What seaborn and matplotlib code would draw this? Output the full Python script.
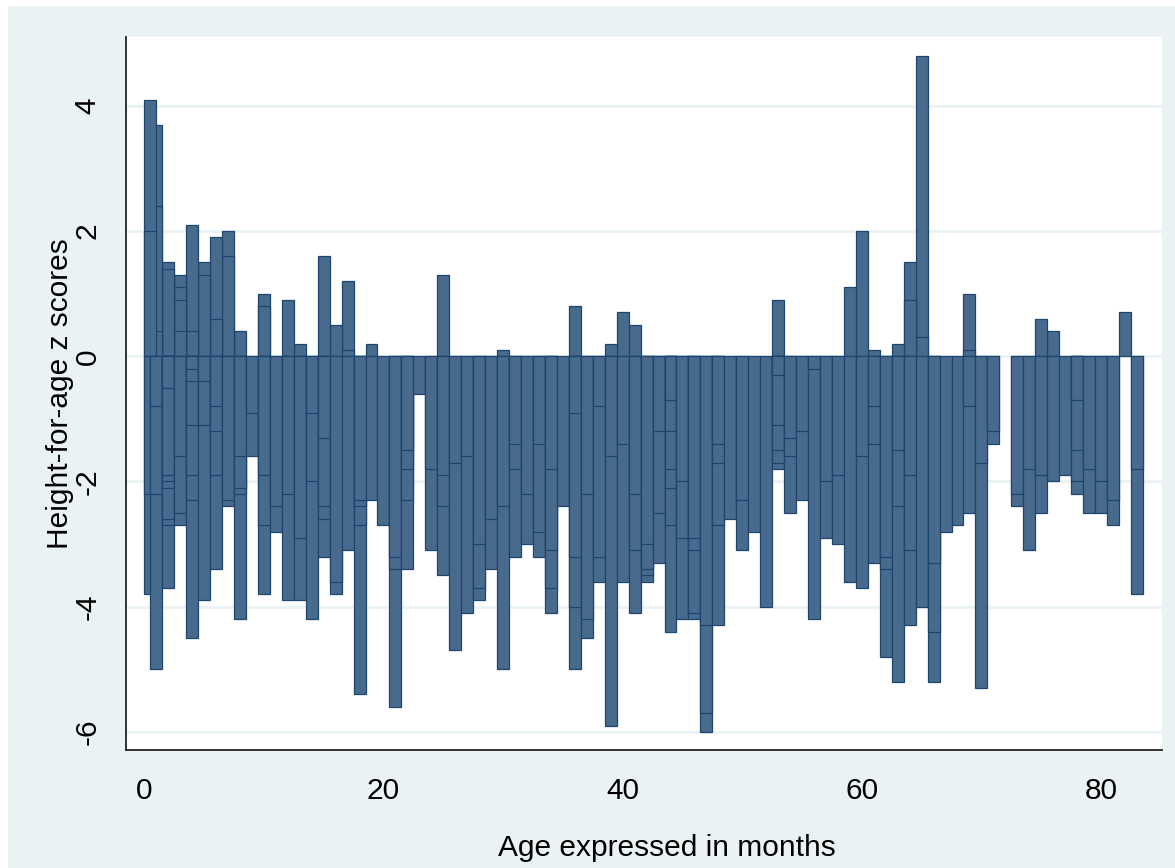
import matplotlib
matplotlib.use("Agg")
import matplotlib.pyplot as plt
from matplotlib.patches import Rectangle
import seaborn as sns
import pandas as pd

# age in months and the height-for-age z scores observed at that age
months = [0.5, 1, 2, 3, 4, 5, 6, 7, 8, 9, 10, 11, 12, 13, 14, 15, 16, 17, 18, 19,
          20, 21, 22, 23, 24, 25, 26, 27, 28, 29, 30, 31, 32, 33, 34, 35, 36, 37,
          38, 39, 40, 41, 42, 43, 44, 45, 46, 47, 48, 49, 50, 51, 52, 53, 54, 55,
          56, 57, 58, 59, 60, 61, 62, 63, 64, 65, 66, 67, 68, 69, 70, 71, 73, 74,
          75, 76, 77, 78, 79, 80, 81, 82, 83]
haz = [
    [4.1, 2.0, -2.2, -3.8],
    [3.7, 2.4, 0.4, -0.8, -2.2, -5.0],
    [1.5, 1.4, -0.5, -1.9, -2.0, -2.1, -2.6, -2.7, -3.7],
    [1.3, 1.1, 0.9, 0.4, -1.6, -2.5, -2.7],
    [2.1, 0.4, -0.2, -0.4, -1.1, -1.9, -2.3, -4.5],
    [1.5, 1.3, -0.4, -1.1, -3.9],
    [1.9, 0.6, -0.8, -1.2, -1.9, -3.4],
    [2.0, 1.6, -2.3, -2.4],
    [0.4, -1.6, -2.1, -2.2, -4.2],
    [-0.9, -1.6],
    [1.0, 0.8, -1.9, -2.7, -3.8],
    [-2.4, -2.8],
    [0.9, -2.2, -3.9],
    [0.2, -2.9, -3.9],
    [-0.9, -2.0, -4.2],
    [1.6, -1.3, -2.4, -2.6, -3.2],
    [0.5, -3.6, -3.8],
    [1.2, 0.1, -3.1],
    [-2.3, -2.4, -2.7, -5.4],
    [0.2, -2.3],
    [-2.7],
    [-3.2, -3.4, -5.6],
    [-1.5, -1.8, -2.3, -3.4],
    [-0.6],
    [-1.8, -3.1],
    [1.3, -1.9, -2.4, -3.5],
    [-1.7, -4.7],
    [-1.6, -4.1],
    [-3.0, -3.7, -3.9],
    [-2.6, -3.4],
    [0.1, -2.4, -5.0],
    [-1.4, -1.8, -3.2],
    [-2.2, -3.0],
    [-1.4, -2.8, -3.2],
    [-1.8, -3.1, -3.7, -4.1],
    [-2.4],
    [0.8, -0.9, -3.2, -4.0, -5.0],
    [-2.2, -4.2, -4.5],
    [-0.8, -3.2, -3.6],
    [0.2, -1.6, -5.9],
    [0.7, -1.4, -3.6],
    [0.5, -2.2, -3.1, -4.1],
    [-3.0, -3.4, -3.5, -3.6],
    [-1.2, -2.5, -3.3],
    [-0.7, -1.2, -1.8, -2.1, -2.7, -4.4],
    [-2.0, -2.9, -4.2],
    [-2.9, -3.1, -4.1, -4.2],
    [-4.3, -5.7, -6.0],
    [-1.4, -1.7, -2.7, -4.3],
    [-2.6],
    [-2.3, -3.1],
    [-2.8],
    [-4.0],
    [0.9, -0.3, -1.1, -1.5, -1.7, -1.8],
    [-1.3, -1.6, -2.5],
    [-1.2, -2.3],
    [-0.2, -4.2],
    [-2.0, -2.9],
    [-1.9, -3.0],
    [1.1, -3.6],
    [2.0, -1.6, -3.7],
    [0.1, -0.8, -1.4, -3.3],
    [-3.2, -3.4, -4.8],
    [0.2, -1.5, -2.4, -5.2],
    [1.5, 0.9, -1.9, -3.1, -4.3],
    [4.8, 0.3, -4.0],
    [-3.3, -4.4, -5.2],
    [-2.8],
    [-2.7],
    [1.0, 0.1, -0.8, -2.5],
    [-1.7, -5.3],
    [-1.2, -1.4],
    [-2.2, -2.4],
    [-1.8, -3.1],
    [0.6, -1.9, -2.5],
    [0.4, -2.0],
    [-1.9],
    [-0.7, -1.5, -2.0, -2.2],
    [-1.8, -2.5],
    [-2.0, -2.5],
    [-2.3, -2.7],
    [0.7],
    [-1.8, -3.8],
]
x_ticks = [0, 20, 40, 60, 80]
y_ticks = [-6, -4, -2, 0, 2, 4]

df = pd.DataFrame([(m, z) for m, zs in zip(months, haz) for z in zs],
                  columns=['age', 'haz'])
df['size'] = df['haz'].abs()
# longer bars first so the shorter ones leave their edges visible
pos = df[df['haz'] > 0].sort_values(['age', 'size'], ascending=[False, False])
neg = df[df['haz'] < 0].sort_values(['age', 'size'], ascending=[True, False])

sns.set_theme(style='white')
plt.rcParams['font.family'] = ['Liberation Sans', 'DejaVu Sans']
plt.rcParams['axes.unicode_minus'] = False

bg = '#eaf2f3'
fig = plt.figure(figsize=(11.75, 8.68), dpi=100, facecolor='white')
fig.patches.append(Rectangle((8 / 1175, 0), 1, 862 / 868, transform=fig.transFigure,
                             facecolor=bg, edgecolor='none', zorder=-10))
ax = fig.add_axes([126 / 1175, 118 / 868, 1036 / 1175, 713 / 868])
ax.set_facecolor('white')

for part in (pos, neg):
    ax.bar(part['age'], part['haz'], width=1.0, color='#486a8c',
           edgecolor='#1c4670', linewidth=0.9)

ax.set_xlim(-1.53, 85.1)
ax.set_ylim(-6.29, 5.10)
ax.set_xticks(x_ticks)
ax.set_yticks(y_ticks)
ax.yaxis.grid(True, color=bg, linewidth=2)
ax.xaxis.grid(False)
ax.set_axisbelow(True)

for side in ('top', 'right'):
    ax.spines[side].set_visible(False)
for side in ('left', 'bottom'):
    ax.spines[side].set_color('#222222')
    ax.spines[side].set_linewidth(1.3)

ax.tick_params(axis='both', which='major', length=9.4, width=1.0, color='#222222',
               labelsize=21.5, labelcolor='black', direction='out')
ax.tick_params(axis='x', pad=10)
ax.tick_params(axis='y', pad=8, labelrotation=90)
for lab in ax.get_yticklabels():
    lab.set_va('center')

ax.set_xlabel('Age expressed in months', fontsize=21.5, color='black')
ax.set_ylabel('Height-for-age z scores', fontsize=21.5, color='black')
ax.xaxis.set_label_coords((667 - 126) / 1036, -0.118)
ax.yaxis.set_label_coords(-0.050, 0.5)

fig.savefig('out.png', dpi=100)
